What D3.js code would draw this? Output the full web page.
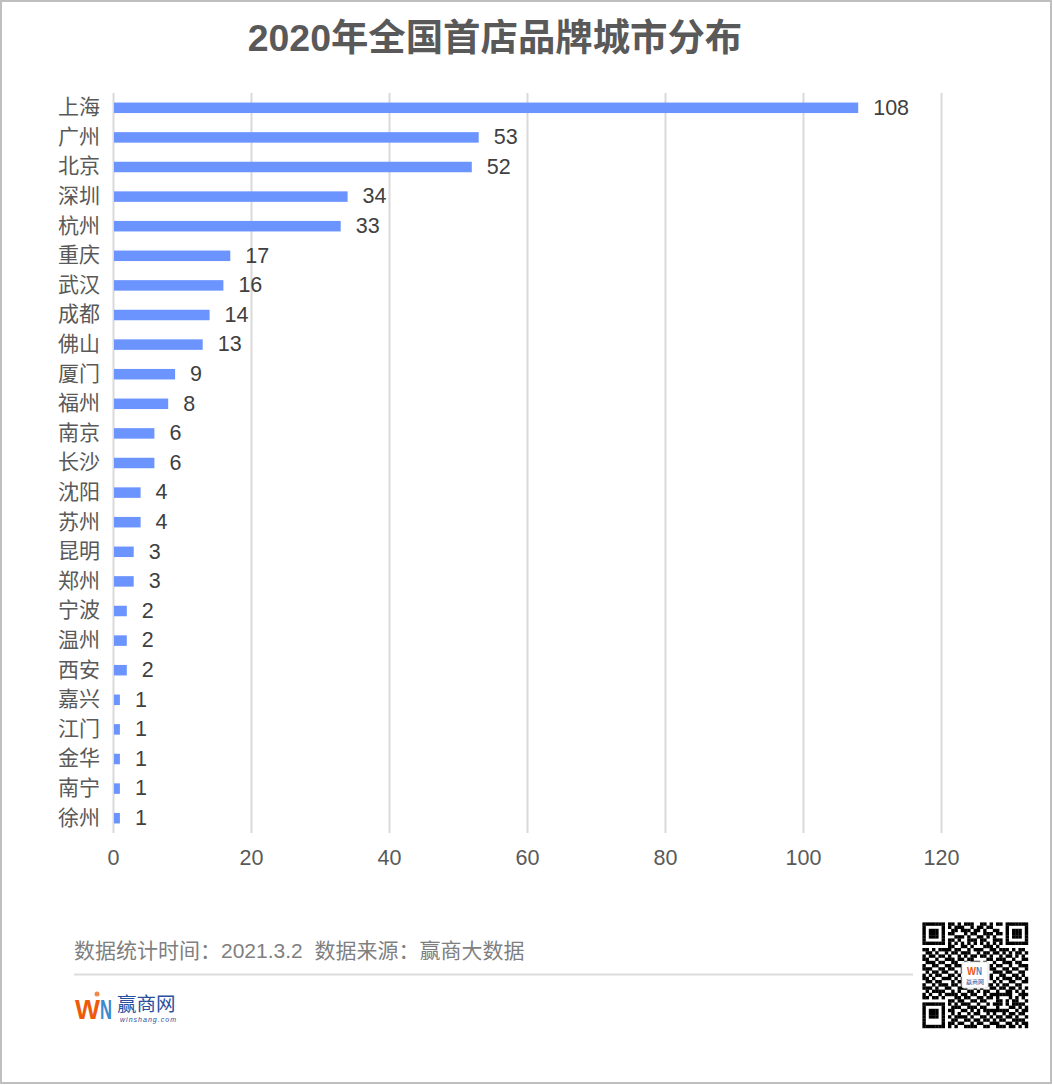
<!DOCTYPE html>
<html>
<head>
<meta charset="utf-8">
<script src="https://cdn.jsdelivr.net/npm/d3@7"></script>
<style>
    body { margin: 0; background: #fff; }
    svg { display: block; }
    text { font-family: "Liberation Sans", "Noto Sans CJK SC", sans-serif; }
    .grid line { stroke: #d9d9d9; stroke-width: 2px; }
    .axis text { fill: #595959; font-size: 21.5px; }
    .axis.cat text { font-size: 21px; }
</style>
</head>
<body>
<div id="chart"></div>
<script>
// Dados
const cities = ["上海", "广州", "北京", "深圳", "杭州", "重庆", "武汉", "成都", "佛山", "厦门", "福州", "南京", "长沙",
    "沈阳", "苏州", "昆明", "郑州", "宁波", "温州", "西安", "嘉兴", "江门", "金华", "南宁", "徐州"];
const counts = [108, 53, 52, 34, 33, 17, 16, 14, 13, 9, 8, 6, 6, 4, 4, 3, 3, 2, 2, 2, 1, 1, 1, 1, 1];
const xTicks = [0, 20, 40, 60, 80, 100, 120];
const titleText = "2020年全国首店品牌城市分布";
const footerText = "数据统计时间：2021.3.2  数据来源：赢商大数据";

// QR (aproximado)
const qrRows = [
    "111111101101011100110101101111111",
    "100000101011100101101100001000001",
    "101110100110111011010011001011101",
    "101110101100010110011101101011101",
    "101110100011101001101010001011101",
    "100000101101001110110011101000001",
    "111111101010101010101010101111111",
    "000000001100110100011101000000000",
    "110101111011001011100110111010110",
    "011010010110111001011011010101101",
    "101101101001010110110100101101010",
    "110010011101101100001101110010011",
    "011101100110010111010010011101100",
    "100110011011100000000101100100111",
    "111001101100100000000110011011001",
    "010110110010100000000011101100110",
    "101011001101000000000100110011010",
    "110100111010100000000101011101101",
    "011011000101100000000010100110011",
    "100101110110101101011101011001100",
    "111010011001110010100110110110101",
    "010111100101001101011001001101010",
    "101001011110110110010111111100111",
    "110110100011011001101101000101010",
    "000000001101100110110001101011001",
    "111111101010111001001011101011110",
    "100000100111001110110001000110101",
    "101110101100110101011111111001011",
    "101110100101001011001010010110110",
    "101110101011110100110101101101001",
    "100000100110011011011010110011110",
    "100000101101100101100111001101011",
    "111111101010011110011001110110101"
];

const W = 1053, H = 1085;
const svg = d3.select("#chart").append("svg").attr("width", W).attr("height", H);

// Moldura
svg.append("rect")
    .attr("x", 1).attr("y", 1).attr("width", W - 3).attr("height", H - 3)
    .attr("fill", "#fff").attr("stroke", "#bfbfbf").attr("stroke-width", 2);

// Titulo
svg.append("text")
    .attr("x", 495).attr("y", 51)
    .attr("text-anchor", "middle")
    .attr("font-size", 37.4)
    .attr("font-weight", "bold")
    .attr("fill", "#595959")
    .text(titleText);

// Escalas
const x = d3.scaleLinear().domain([0, 120]).range([113, 941]);
const y = d3.scaleBand().domain(cities).range([93, 833]).paddingInner(0.645).paddingOuter(0.3225);

// Grid em X
svg.append("g")
    .attr("class", "grid")
    .attr("transform", "translate(0,833)")
    .call(d3.axisBottom(x).tickValues(xTicks).tickSize(-740).tickFormat(""))
    .call(g => g.select(".domain").remove());

// Eixos
svg.append("g")
    .attr("class", "axis")
    .attr("transform", "translate(0,833)")
    .call(d3.axisBottom(x).tickValues(xTicks).tickSize(0).tickPadding(17))
    .call(g => g.select(".domain").remove());

svg.append("g")
    .attr("class", "axis cat")
    .attr("transform", "translate(100,-0.4)")
    .call(d3.axisLeft(y).tickSize(0).tickPadding(0))
    .call(g => g.select(".domain").remove());

// Barras
const rows = cities.map((name, i) => ({ name, value: counts[i] }));

svg.selectAll(".bar")
    .data(rows)
    .enter()
    .append("rect")
    .attr("class", "bar")
    .attr("x", x(0) + 1)
    .attr("y", d => y(d.name))
    .attr("width", d => x(d.value) - x(0) - 1)
    .attr("height", y.bandwidth())
    .attr("fill", "#6c94ff");

svg.selectAll(".label")
    .data(rows)
    .enter()
    .append("text")
    .attr("class", "label")
    .attr("x", d => x(d.value) + 15)
    .attr("y", d => y(d.name) + y.bandwidth() / 2 - 0.7)
    .attr("dy", "0.35em")
    .attr("font-size", 21.5)
    .attr("fill", "#404040")
    .text(d => d.value);

// Rodape
svg.append("text")
    .attr("x", 74).attr("y", 958)
    .attr("font-size", 21)
    .attr("fill", "#7f7f7f")
    .attr("xml:space", "preserve")
    .style("white-space", "pre")
    .text(footerText);

svg.append("line")
    .attr("x1", 74).attr("x2", 913).attr("y1", 974.5).attr("y2", 974.5)
    .attr("stroke", "#dcdcdc").attr("stroke-width", 2);

// Logo
const logo = svg.append("g");
logo.append("text").attr("x", 75).attr("y", 1019)
    .attr("font-size", 27).attr("font-weight", "bold").attr("fill", "#ee5a0a")
    .attr("textLength", 25).attr("lengthAdjust", "spacingAndGlyphs").text("W");
logo.append("text").attr("x", 100).attr("y", 1019)
    .attr("font-size", 27).attr("font-weight", "bold").attr("fill", "#3a8ad0")
    .attr("textLength", 12).attr("lengthAdjust", "spacingAndGlyphs").text("N");
logo.append("circle").attr("cx", 97).attr("cy", 994).attr("r", 2.5).attr("fill", "#f08a4a");
logo.append("text").attr("x", 117).attr("y", 1011)
    .attr("font-size", 19.5).attr("fill", "#2a4f9e").text("赢商网");
logo.append("text").attr("x", 120).attr("y", 1022)
    .attr("font-size", 7).attr("font-style", "italic").attr("fill", "#2a4f9e")
    .attr("textLength", 56).text("winshang.com");

// QR
const qrSize = 105.6;
const qrX = d3.scaleBand().domain(d3.range(33)).range([922.4, 922.4 + qrSize]);
const qrY = d3.scaleBand().domain(d3.range(33)).range([922.4, 922.4 + qrSize]);
const qrCells = [];
qrRows.forEach((row, r) => row.split("").forEach((c, k) => { if (c === "1") qrCells.push({ r, k }); }));

svg.append("g").selectAll("rect")
    .data(qrCells)
    .enter()
    .append("rect")
    .attr("x", d => qrX(d.k))
    .attr("y", d => qrY(d.r))
    .attr("width", qrX.bandwidth() + 0.2)
    .attr("height", qrY.bandwidth() + 0.2)
    .attr("fill", "#000");

svg.append("rect")
    .attr("x", 962).attr("y", 962).attr("width", 26).attr("height", 26).attr("rx", 2)
    .attr("fill", "#fff").attr("stroke", "#e4e4e4");
svg.append("text").attr("x", 967).attr("y", 975)
    .attr("font-size", 11).attr("font-weight", "bold").attr("fill", "#ee5a0a")
    .attr("textLength", 9).attr("lengthAdjust", "spacingAndGlyphs").text("W");
svg.append("text").attr("x", 976).attr("y", 975)
    .attr("font-size", 11).attr("font-weight", "bold").attr("fill", "#3a8ad0")
    .attr("textLength", 6).attr("lengthAdjust", "spacingAndGlyphs").text("N");
svg.append("text").attr("x", 966).attr("y", 984)
    .attr("font-size", 6).attr("fill", "#2a4f9e").text("赢商网");
</script>
</body>
</html>
